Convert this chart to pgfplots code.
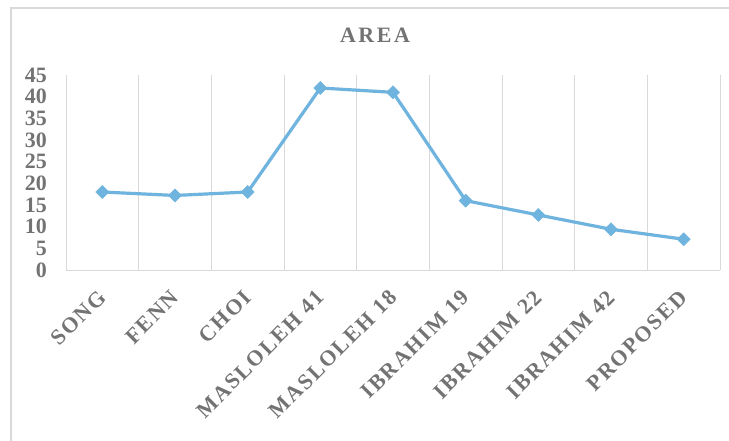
\documentclass[border=0pt]{standalone}
\usepackage{pgfplots}
\pgfplotsset{compat=1.18}
\usepackage{fontspec}
\setmainfont{Liberation Serif}
\definecolor{txt}{HTML}{737373}
\definecolor{gridc}{HTML}{D9D9D9}
\definecolor{linec}{RGB}{110,180,222}
\begin{document}
\begin{tikzpicture}
\useasboundingbox (0,0) rectangle (729bp,441bp);
\clip (0,0) rectangle (729bp,441bp);
\fill[white] (0,0) rectangle (729bp,441bp);
\draw[gridc, line width=1.5bp] (11bp,-20bp) rectangle (760bp,433bp);
\node[inner sep=0pt, text=txt, font={\fontsize{22}{22}\selectfont\bfseries\addfontfeatures{LetterSpace=12}}] at (375bp,405.5bp) {AREA};
\begin{axis}[
  at={(66bp,171bp)}, anchor=south west,
  scale only axis, width=654bp, height=195bp,
  xmin=-0.5, xmax=8.5, ymin=0, ymax=45,
  xtick={0,...,8},
  xticklabels={SONG,FENN,CHOI,MASLOLEH 41,MASLOLEH 18,IBRAHIM 19,IBRAHIM 22,IBRAHIM 42,PROPOSED},
  minor xtick={-0.5,0.5,...,8.5},
  xminorgrids, minor grid style={gridc, line width=1bp},
  ytick={0,5,...,45},
  extra y ticks={0}, extra y tick labels={},
  extra y tick style={ymajorgrids, major grid style={gridc, line width=1bp}},
  axis line style={draw=none},
  major tick length=0pt, minor tick length=0pt,
  /pgf/number format/assume math mode=true,
  every tick label/.append style={inner sep=0pt, text=txt, font={\fontsize{22}{22}\selectfont\bfseries}},
  yticklabel style={xshift=-19bp},
  xticklabel style={rotate=45, anchor=east, font={\fontsize{22}{22}\selectfont\bfseries\addfontfeatures{LetterSpace=8}}},
  xticklabel shift=24bp,
  clip=false,
]
\addplot[linec, line width=3.2bp, mark=square*, mark size=4.6bp, mark options={rotate=45, fill=linec, draw=linec, line width=0.5bp}]
  coordinates {(0,18) (1,17.2) (2,18) (3,42) (4,41) (5,16) (6,12.7) (7,9.4) (8,7.1)};
\end{axis}
\end{tikzpicture}
\end{document}
